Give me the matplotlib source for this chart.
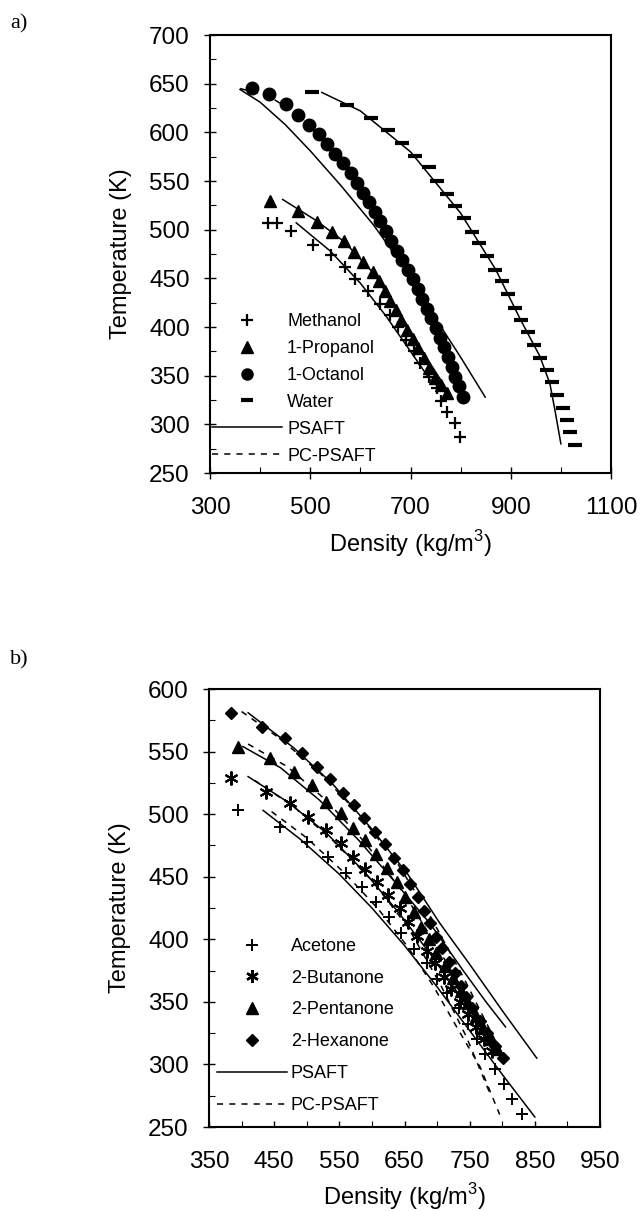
import matplotlib
matplotlib.use('Agg')
import matplotlib.pyplot as plt
from matplotlib.ticker import MultipleLocator, FixedLocator
from matplotlib.lines import Line2D

plt.rcParams['font.family'] = ['Liberation Sans', 'DejaVu Sans']
plt.rcParams['mathtext.fontset'] = 'custom'
plt.rcParams['mathtext.rm'] = 'Liberation Sans'

# ---------------- panel a) alcohols + water ----------------
methanol_rho = [416, 433, 461, 506, 542, 569, 589, 616, 639, 659, 676, 692, 706, 719, 736, 752, 760, 772, 789, 799]
methanol_T = [507, 507, 499, 484, 474, 462, 449, 437, 424, 412, 400, 387, 375, 363, 349, 337, 324, 313, 301, 287]

propanol_rho = [420, 476, 513, 543, 567, 587, 606, 625, 637, 649, 660, 671, 682, 693, 704, 715, 726, 737, 748, 760, 772]
propanol_T = [529, 519, 508, 498, 488, 477, 467, 457, 447, 437, 427, 417, 407, 397, 388, 378, 368, 358, 348, 340, 332]

octanol_rho = [383, 418, 452, 476, 497, 517, 533, 549, 565, 581, 594, 606, 618, 629, 640, 652, 662,
               674, 684, 695, 705, 714, 723, 732, 741, 750, 758, 766, 774, 782, 789, 796, 805]
octanol_T = [646, 639, 629, 618, 608, 598, 588, 578, 568, 558, 548, 538, 528, 518, 509, 499, 488,
             478, 469, 459, 449, 439, 429, 419, 409, 399, 389, 379, 369, 359, 349, 339, 328]

water_rho = [503, 573, 621, 656, 683, 709, 736, 752, 772, 789, 807, 822, 837, 853, 869, 882,
             895, 908, 920, 934, 947, 958, 972, 983, 993, 1005, 1012, 1018, 1028]
water_T = [641, 628, 615, 602, 589, 576, 564, 550, 537, 524, 512, 498, 486, 473, 459, 447,
           434, 420, 407, 395, 381, 368, 356, 343, 330, 317, 304, 292, 279]

# model curves (PSAFT solid, PC-PSAFT dashed)
methanol_psaft_rho = [472, 540, 600, 650, 700, 740, 772]
methanol_psaft_T = [507, 478, 445, 412, 375, 345, 332]
propanol_psaft_rho = [445, 513, 567, 625, 680, 730, 776]
propanol_psaft_T = [531, 509, 488, 456, 413, 370, 333]
octanol_psaft_rho = [360, 400, 450, 500, 560, 626, 690, 746, 800, 849]
octanol_psaft_T = [644, 631, 608, 581, 546, 505, 459, 412, 369, 328]
water_psaft_rho = [523, 600, 700, 800, 870, 920, 958, 978, 988, 1000]
water_psaft_T = [641, 622, 580, 517, 459, 407, 370, 342, 315, 280]
octanol_pc_rho = [360, 418, 476, 533, 594, 652, 705, 750, 790, 805]
octanol_pc_T = [645, 637, 618, 588, 548, 499, 449, 399, 350, 330]

# ---------------- panel b) ketones ----------------
acetone_rho = [394, 459, 501, 532, 560, 585, 607, 626, 645, 665, 684, 700, 715, 733, 748, 761, 774, 789, 803, 815, 830]
acetone_T = [503, 490, 478, 466, 453, 442, 430, 418, 405, 392, 381, 368, 357, 345, 332, 320, 308, 296, 284, 272, 260]

butanone_rho = [383, 438, 475, 502, 530, 552, 571, 590, 608, 625, 643, 656, 669, 684, 697, 710, 722, 735, 748, 760, 772, 784]
butanone_T = [529, 518, 509, 498, 487, 477, 466, 456, 446, 435, 425, 414, 403, 391, 381, 370, 360, 350, 340, 330, 320, 311]

pentanone_rho = [394, 444, 480, 508, 530, 552, 571, 589, 607, 623, 638, 651, 664, 676, 687, 699, 712, 724,
                 736, 748, 760, 771, 782, 792]
pentanone_T = [554, 545, 534, 523, 510, 501, 489, 479, 468, 457, 446, 434, 422, 410, 400, 389, 379, 369,
               359, 349, 339, 329, 320, 312]

hexanone_rho = [383, 432, 467, 492, 515, 535, 555, 573, 588, 605, 620, 634, 647, 659, 670, 680, 689, 698,
                707, 719, 728, 737, 745, 753, 766, 776, 789, 801]
hexanone_T = [581, 570, 561, 549, 538, 528, 517, 507, 497, 486, 476, 465, 455, 444, 434, 423, 413, 402,
              393, 382, 373, 363, 354, 345, 335, 325, 315, 305]

acetone_psaft_rho = [433, 490, 550, 600, 650, 700, 750, 800, 850]
acetone_psaft_T = [503, 480, 452, 425, 395, 362, 327, 292, 258]
acetone_pc_rho = [446, 500, 560, 610, 655, 695, 730, 766, 796]
acetone_pc_T = [502, 481, 452, 424, 394, 362, 330, 298, 260]
butanone_psaft_rho = [410, 470, 530, 590, 640, 690, 740, 790]
butanone_psaft_T = [530, 510, 485, 453, 422, 388, 351, 314]
butanone_pc_rho = [420, 480, 540, 600, 655, 705, 745, 781]
butanone_pc_T = [527, 506, 479, 447, 410, 364, 322, 277]
pentanone_psaft_rho = [402, 460, 520, 580, 635, 690, 740, 775, 805]
pentanone_psaft_T = [554, 537, 511, 479, 446, 412, 375, 350, 330]
pentanone_pc_rho = [410, 470, 530, 590, 650, 700, 750, 795]
pentanone_pc_T = [556, 538, 511, 477, 436, 394, 350, 312]
hexanone_psaft_rho = [410, 480, 540, 600, 655, 704, 750, 800, 853]
hexanone_psaft_T = [581, 553, 524, 488, 452, 413, 380, 343, 305]
hexanone_pc_rho = [400, 460, 520, 580, 640, 690, 740, 800]
hexanone_pc_T = [582, 560, 533, 500, 460, 418, 370, 308]

xticks_a = [300, 500, 700, 900, 1100]
xticks_b = [350, 450, 550, 650, 750, 850, 950]
yticks_a = [250, 300, 350, 400, 450, 500, 550, 600, 650, 700]
yticks_b = [250, 300, 350, 400, 450, 500, 550, 600]

SOLID = dict(color='black', lw=1.1, ls='-')
DASHED = dict(color='black', lw=1.1, ls=(0, (4, 4)))


def style(ax, xlim, ylim, xticks, xminor, yticks, xdir):
    ax.set_xlim(*xlim)
    ax.set_ylim(*ylim)
    ax.xaxis.set_major_locator(FixedLocator(xticks))
    ax.xaxis.set_minor_locator(MultipleLocator(xminor))
    ax.yaxis.set_major_locator(FixedLocator(yticks))
    ax.yaxis.set_minor_locator(MultipleLocator(25))
    ax.tick_params(axis='y', which='major', direction='inout', length=9, width=1,
                   labelsize=17.5, pad=10)
    ax.tick_params(axis='x', which='major', direction=xdir, length=9 if xdir == 'inout' else 4,
                   width=1, labelsize=17.5, pad=13 if xdir == 'inout' else 17)
    ax.tick_params(which='minor', direction='in', length=4, width=0.8)
    for s in ax.spines.values():
        s.set_linewidth(1.5)
    ax.set_xlabel('Density (kg/m$^{3}$)', fontsize=17, labelpad=6)
    ax.set_ylabel('Temperature (K)', fontsize=17, labelpad=12)


fig = plt.figure(figsize=(6.41, 12.11), dpi=100)

# ---- a)
ax = fig.add_axes([210 / 641, 1 - 473 / 1211, 401 / 641, 438 / 1211])
for r, t in [(methanol_psaft_rho, methanol_psaft_T), (propanol_psaft_rho, propanol_psaft_T),
             (octanol_psaft_rho, octanol_psaft_T), (water_psaft_rho, water_psaft_T)]:
    ax.plot(r, t, **SOLID)
ax.plot(octanol_pc_rho, octanol_pc_T, **DASHED)
ax.plot(methanol_rho, methanol_T, ls='none', marker='+', ms=9, mew=1.6, color='black')
ax.plot(propanol_rho, propanol_T, ls='none', marker='^', ms=9, color='black')
ax.plot(octanol_rho, octanol_T, ls='none', marker='o', ms=9, color='black')
ax.plot(water_rho, water_T, ls='none', marker='_', ms=10, mew=3, color='black')
style(ax, (300, 1100), (250, 700), xticks_a, 100, yticks_a, 'inout')

handles_a = [Line2D([], [], ls='none', marker='+', ms=8, mew=1.6, color='black'),
             Line2D([], [], ls='none', marker='^', ms=8, color='black'),
             Line2D([], [], ls='none', marker='o', ms=8, color='black'),
             Line2D([], [], ls='none', marker='_', ms=9, mew=3, color='black'),
             Line2D([], [], **SOLID),
             Line2D([], [], **DASHED)]
labels_a = ['Methanol', '1-Propanol', '1-Octanol', 'Water', 'PSAFT', 'PC-PSAFT']
ax.legend(handles_a, labels_a, loc='lower left', bbox_to_anchor=(0.004, 0.019), frameon=False,
          fontsize=13, borderpad=0, borderaxespad=0, handlelength=3.9, handletextpad=0.28,
          labelspacing=0.55)
fig.text(10 / 641, 1 - 24 / 1211, 'a)', family=['Liberation Serif'], fontsize=16, va='center')

# ---- b)
ax = fig.add_axes([209 / 641, 1 - 1127 / 1211, 391 / 641, 438 / 1211])
for r, t in [(acetone_psaft_rho, acetone_psaft_T), (butanone_psaft_rho, butanone_psaft_T),
             (pentanone_psaft_rho, pentanone_psaft_T), (hexanone_psaft_rho, hexanone_psaft_T)]:
    ax.plot(r, t, **SOLID)
for r, t in [(acetone_pc_rho, acetone_pc_T), (butanone_pc_rho, butanone_pc_T),
             (pentanone_pc_rho, pentanone_pc_T), (hexanone_pc_rho, hexanone_pc_T)]:
    ax.plot(r, t, **DASHED)
ax.plot(acetone_rho, acetone_T, ls='none', marker='+', ms=9, mew=1.4, color='black')
ax.plot(butanone_rho, butanone_T, ls='none', marker=(6, 2, 0), ms=10, mew=1.5, color='black')
ax.plot(pentanone_rho, pentanone_T, ls='none', marker='^', ms=8.5, color='black')
ax.plot(hexanone_rho, hexanone_T, ls='none', marker='D', ms=6.5, color='black')
style(ax, (350, 950), (250, 600), xticks_b, 50, yticks_b, 'in')

handles_b = [Line2D([], [], ls='none', marker='+', ms=8, mew=1.4, color='black'),
             Line2D([], [], ls='none', marker=(6, 2, 0), ms=9, mew=1.7, color='black'),
             Line2D([], [], ls='none', marker='^', ms=8, color='black'),
             Line2D([], [], ls='none', marker='D', ms=6, color='black'),
             Line2D([], [], **SOLID),
             Line2D([], [], **DASHED)]
labels_b = ['Acetone', '2-Butanone', '2-Pentanone', '2-Hexanone', 'PSAFT', 'PC-PSAFT']
ax.legend(handles_b, labels_b, loc='lower left', bbox_to_anchor=(0.0197, 0.030), frameon=False,
          fontsize=13, borderpad=0, borderaxespad=0, handlelength=3.9, handletextpad=0.2,
          labelspacing=0.82)
fig.text(10 / 641, 1 - 660 / 1211, 'b)', family=['Liberation Serif'], fontsize=16, va='center')

fig.savefig('out.png', dpi=100)
